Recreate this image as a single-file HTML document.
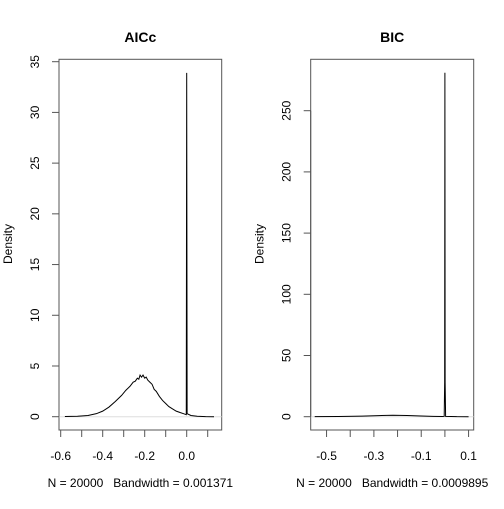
<!DOCTYPE html>
<html><head><meta charset="utf-8"><style>
body{margin:0;background:#fff}
svg text{font-family:"Liberation Sans",Arial,sans-serif;fill:#000}
</style></head><body>
<svg id="c" width="504" height="504" viewBox="0 0 504 504"></svg>
<script>
const aicX=[-0.58,-0.52,-0.47,-0.43,-0.40,-0.37,-0.34,-0.31,-0.29,-0.27,-0.255,-0.245,-0.235,-0.228,-0.222,-0.215,-0.208,-0.2,-0.193,-0.185,-0.175,-0.165,-0.155,-0.145,-0.13,-0.115,-0.1,-0.085,-0.07,-0.05,-0.03,-0.015,-0.002,0.0,0.002,0.02,0.05,0.09,0.13];
const aicY=[0.02,0.05,0.12,0.3,0.55,0.95,1.5,2.1,2.6,3.0,3.4,3.5,3.8,3.7,4.1,3.9,4.1,3.8,3.9,3.6,3.4,3.2,2.7,2.5,2.0,1.6,1.3,1.0,0.8,0.55,0.4,0.3,0.2,33.9,0.3,0.12,0.04,0.01,0.0];
const bicX=[-0.55,-0.45,-0.35,-0.28,-0.22,-0.16,-0.1,-0.05,-0.01,-0.003,-0.001,0.0,0.001,0.003,0.05,0.1];
const bicY=[0.05,0.2,0.5,0.9,1.2,1.0,0.6,0.3,0.15,0.3,28,281,28,0.3,0.05,0.0];
const aicTicks=[-0.6,-0.5,-0.4,-0.3,-0.2,-0.1,0.0,0.1];
const aicTickLabels=["-0.6","","-0.4","","-0.2","","0.0",""];
const aicYTicks=[0,5,10,15,20,25,30,35];
const bicTicks=[-0.5,-0.4,-0.3,-0.2,-0.1,0.0,0.1];
const bicTickLabels=["-0.5","","-0.3","","-0.1","","0.1"];
const bicYTicks=[0,50,100,150,200,250];

const svg=document.getElementById('c');
const NS='http://www.w3.org/2000/svg';
function mk(t,a,p){const e=document.createElementNS(NS,t);for(const k in a)e.setAttribute(k,a[k]);(p||svg).appendChild(e);return e;}

function panel(o){
  const g=mk('g',{});
  
  
  const sx=v=>o.x0+(v-o.xa)*o.xs, sy=v=>416.7-v*o.ys;
  const box=mk('rect',{x:o.L,y:59.3,width:o.R-o.L,height:430-59.3,fill:'none',stroke:'#555','stroke-width':1},g);
  
  mk('line',{x1:o.L,x2:o.R,y1:sy(0),y2:sy(0),stroke:'#ddd','stroke-width':1},g);
  const xa=mk('line',{x1:sx(o.xt[0]),x2:sx(o.xt[o.xt.length-1]),y1:430,y2:430,stroke:'#555'},g);
  
  o.xt.forEach((v,i)=>{mk('line',{x1:sx(v),x2:sx(v),y1:430,y2:437,stroke:'#555'},g);
    if(o.xl[i]){const t=mk('text',{x:sx(v),y:460,'font-size':12,'text-anchor':'middle'},g);t.textContent=o.xl[i];
    }});
  const ya=mk('line',{x1:o.L,x2:o.L,y1:sy(o.yt[0]),y2:sy(o.yt[o.yt.length-1]),stroke:'#555'},g);
  
  o.yt.forEach(v=>{mk('line',{x1:o.L-7,x2:o.L,y1:sy(v),y2:sy(v),stroke:'#555'},g);
    const t=mk('text',{x:0,y:0,'font-size':12,'text-anchor':'middle',transform:`translate(${o.L-20},${sy(v)}) rotate(-90)`},g);t.textContent=v;
    });
  const yl=mk('text',{x:0,y:0,'font-size':12,'text-anchor':'middle',transform:`translate(${o.L-47},244) rotate(-90)`},g);yl.textContent='Density';
  
  const ti=mk('text',{x:(o.L+o.R)/2,y:42,'font-size':14,'font-weight':'bold','text-anchor':'middle'},g);ti.textContent=o.title;
  
  const sub=mk('text',{x:(o.L+o.R)/2,y:487,'font-size':12,'text-anchor':'middle'},g);sub.textContent=o.sub;
  
  const d=o.X.map((v,i)=>(i?'L':'M')+sx(v).toFixed(2)+' '+sy(o.Y[i]).toFixed(2)).join(' ');
  const p=mk('path',{d:d,fill:'none',stroke:'#000','stroke-width':1},g);
  
}
panel({name:'aicc-panel',title:'AICc',sub:'N = 20000\u00a0\u00a0\u00a0Bandwidth = 0.001371',L:59,R:221.7,x0:186.7,xa:0,xs:210,ys:10.143,X:aicX,Y:aicY,xt:aicTicks,xl:aicTickLabels,yt:aicYTicks});
panel({name:'bic-panel',title:'BIC',sub:'N = 20000\u00a0\u00a0\u00a0Bandwidth = 0.0009895',L:310.7,R:473.7,x0:444.9,xa:0,xs:236.7,ys:1.224,X:bicX,Y:bicY,xt:bicTicks,xl:bicTickLabels,yt:bicYTicks});
</script>
</body></html>
